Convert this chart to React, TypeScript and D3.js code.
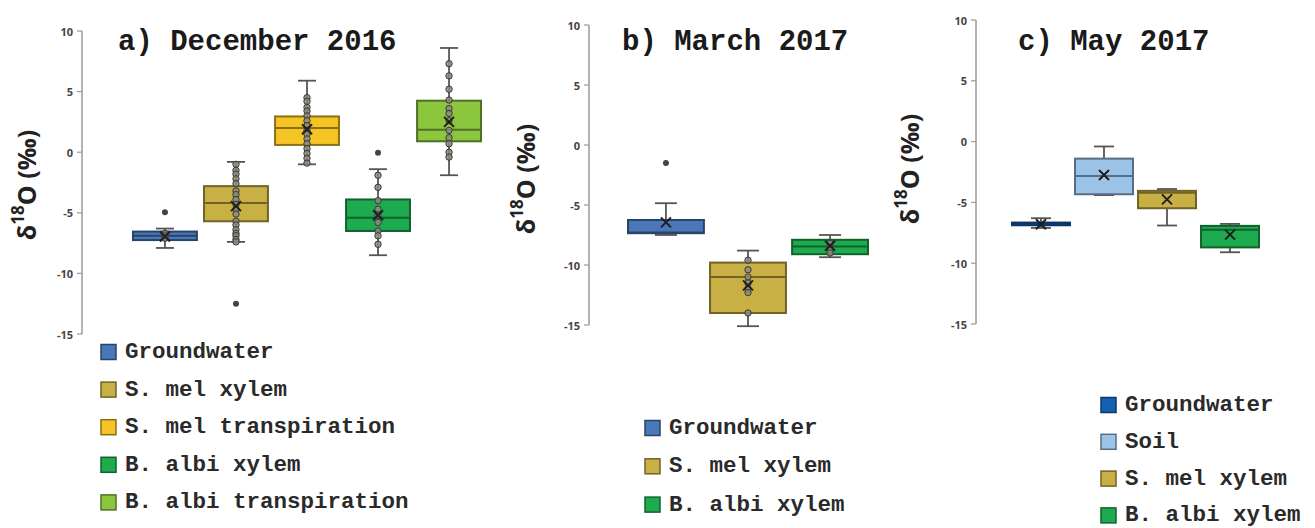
import React from "react";
import * as d3 from "d3";

// ---------- DATA ----------
// a) December 2016
const decCategories = ["Groundwater", "S. mel xylem", "S. mel transpiration", "B. albi xylem", "B. albi transpiration"];
const decColors = ["#4a78b8", "#c8b045", "#f5c425", "#1eab50", "#8cc63f"];
const decLow = [-7.9, -7.4, -1.0, -8.5, -1.9];
const decQ1 = [-7.25, -5.7, 0.6, -6.5, 0.9];
const decMedian = [-6.9, -4.2, 2.0, -5.4, 1.85];
const decQ3 = [-6.55, -2.8, 2.95, -3.9, 4.25];
const decHigh = [-6.3, -0.8, 5.9, -1.4, 8.6];
const decMean = [-6.95, -4.45, 1.9, -5.2, 2.5];
const decOutliers = [[-4.95], [-12.5], [], [-0.05], []];
const decPoints = [
  [-6.7, -6.9, -7.1],
  [-1.0, -1.5, -1.8, -2.2, -2.6, -3.2, -3.5, -3.9, -4.3, -4.7, -5.1, -5.7, -6.0, -6.4, -6.7, -6.9, -7.2, -7.4],
  [4.5, 4.2, 3.7, 3.4, 3.0, 2.6, 2.2, 1.8, 1.5, 1.1, 0.7, 0.3, -0.1, -0.5, -0.9],
  [-1.9, -2.9, -4.0, -4.7, -5.2, -5.8, -6.5, -6.9, -7.6],
  [7.3, 6.3, 5.2, 4.3, 3.6, 3.2, 2.6, 1.8, 1.2, 0.7, 0.0, -0.4],
];

// b) March 2017
const marCategories = ["Groundwater", "S. mel xylem", "B. albi xylem"];
const marColors = ["#4a78b8", "#c8b045", "#1eab50"];
const marLow = [-7.5, -15.1, -9.35];
const marQ1 = [-7.35, -14.0, -9.1];
const marMedian = [-7.3, -11.0, -8.45];
const marQ3 = [-6.25, -9.8, -7.9];
const marHigh = [-4.85, -8.8, -7.5];
const marMean = [-6.45, -11.7, -8.4];
const marOutliers = [[-1.5], [], []];
const marPoints = [[], [-9.6, -10.4, -11.0, -11.5, -12.0, -12.3, -14.0], [-8.2, -8.7, -9.0]];

// c) May 2017
const mayCategories = ["Groundwater", "Soil", "S. mel xylem", "B. albi xylem"];
const mayColors = ["#1560b4", "#9cc3e8", "#c8b045", "#1eab50"];
const mayLow = [-7.1, -4.4, -6.9, -9.1];
const mayQ1 = [-6.88, -4.33, -5.48, -8.7];
const mayMedian = [-6.75, -2.82, -4.2, -7.25];
const mayQ3 = [-6.66, -1.4, -4.05, -6.93];
const mayHigh = [-6.3, -0.4, -3.9, -6.77];
const mayMean = [-6.8, -2.75, -4.75, -7.65];
const mayOutliers = [[], [], [], []];
const mayPoints = [[], [], [], []];

const yTicks = [10, 5, 0, -5, -10, -15];
const yDomain = [-15, 10];

const titles = ["a) December 2016", "b) March 2017", "c) May 2017"];

// ---------- LAYOUT ----------
type PanelData = {
  title: string;
  categories: string[];
  colors: string[];
  low: number[];
  q1: number[];
  median: number[];
  q3: number[];
  high: number[];
  mean: number[];
  outliers: number[][];
  points: number[][];
};

type PanelLayout = {
  axisX: number;
  yTop: number;
  yBottom: number;
  bandStart: number;
  bandEnd: number;
  padInner: number;
  capHalf: number;
  titleX: number;
  titleY: number;
  labelX: number;
  labelY: number;
  legendX: number;
  legendY: number;
  legendStep: number;
};

const panels: PanelData[] = [
  { title: titles[0], categories: decCategories, colors: decColors, low: decLow, q1: decQ1, median: decMedian, q3: decQ3, high: decHigh, mean: decMean, outliers: decOutliers, points: decPoints },
  { title: titles[1], categories: marCategories, colors: marColors, low: marLow, q1: marQ1, median: marMedian, q3: marQ3, high: marHigh, mean: marMean, outliers: marOutliers, points: marPoints },
  { title: titles[2], categories: mayCategories, colors: mayColors, low: mayLow, q1: mayQ1, median: mayMedian, q3: mayQ3, high: mayHigh, mean: mayMean, outliers: mayOutliers, points: mayPoints },
];

const layouts: PanelLayout[] = [
  { axisX: 82, yTop: 31, yBottom: 334, bandStart: 133, bandEnd: 481, padInner: 0.1, capHalf: 9, titleX: 118, titleY: 50, labelX: 26, labelY: 185, legendX: 101, legendY: 352, legendStep: 37.6 },
  { axisX: 589, yTop: 25, yBottom: 325, bandStart: 628, bandEnd: 868, padInner: 0.075, capHalf: 11, titleX: 622, titleY: 50, labelX: 525, labelY: 179, legendX: 645, legendY: 428, legendStep: 38.3 },
  { axisX: 976, yTop: 20, yBottom: 324, bandStart: 1012, bandEnd: 1259, padInner: 0.08, capHalf: 10, titleX: 1018, titleY: 50, labelX: 909, labelY: 169, legendX: 1101, legendY: 405, legendStep: 36.8 },
];

const MONO = "'Liberation Mono', 'Courier New', monospace";
const SANS = "'Open Sans', 'DejaVu Sans', Arial, sans-serif";

function Panel({ d, l }: { d: PanelData; l: PanelLayout }) {
  const y = d3.scaleLinear().domain(yDomain).range([l.yBottom, l.yTop]);
  const x = d3
    .scaleBand<string>()
    .domain(d.categories)
    .range([l.bandStart, l.bandEnd])
    .paddingInner(l.padInner)
    .paddingOuter(0);
  const bw = x.bandwidth();

  return (
    <g>
      {/* axis */}
      <line x1={l.axisX} x2={l.axisX} y1={y(10)} y2={y(-15)} stroke="#9a9a9a" strokeWidth={1.5} />
      {yTicks.map((t) => (
        <g key={t}>
          <line x1={l.axisX - 5} x2={l.axisX} y1={y(t)} y2={y(t)} stroke="#9a9a9a" strokeWidth={1.2} />
          <text
            x={l.axisX - 9}
            y={y(t)}
            textAnchor="end"
            dominantBaseline="central"
            fontFamily={SANS}
            fontWeight={700}
            fontSize={11}
            fill="#444"
          >
            {t}
          </text>
        </g>
      ))}
      {/* y label */}
      <text
        transform={`translate(${l.labelX},${l.labelY}) rotate(-90)`}
        textAnchor="middle"
        dominantBaseline="central"
        fontFamily={SANS}
        fontWeight={700}
        fontSize={25}
        fill="#222"
      >
        δ<tspan fontSize={17} dy={-9}>18</tspan>
        <tspan dy={9}>O (‰)</tspan>
      </text>
      {/* title */}
      <text x={l.titleX} y={l.titleY} fontFamily={MONO} fontWeight={700} fontSize={29} fill="#1a1a1a">
        {d.title}
      </text>
      {/* boxes */}
      {d.categories.map((c, i) => {
        const x0 = x(c) as number;
        const cx = x0 + bw / 2;
        const fill = d.colors[i];
        const dark = d3.color(fill)!.darker(1.6).formatHex();
        return (
          <g key={c}>
            {/* whiskers */}
            <line x1={cx} x2={cx} y1={y(d.high[i])} y2={y(d.q3[i])} stroke="#555" strokeWidth={1.8} />
            <line x1={cx} x2={cx} y1={y(d.q1[i])} y2={y(d.low[i])} stroke="#555" strokeWidth={1.8} />
            <line x1={cx - l.capHalf} x2={cx + l.capHalf} y1={y(d.high[i])} y2={y(d.high[i])} stroke="#555" strokeWidth={1.8} />
            <line x1={cx - l.capHalf} x2={cx + l.capHalf} y1={y(d.low[i])} y2={y(d.low[i])} stroke="#555" strokeWidth={1.8} />
            {/* box */}
            <rect
              x={x0}
              y={y(d.q3[i])}
              width={bw}
              height={Math.max(1, y(d.q1[i]) - y(d.q3[i]))}
              fill={fill}
              stroke={dark}
              strokeWidth={2}
            />
            <line x1={x0} x2={x0 + bw} y1={y(d.median[i])} y2={y(d.median[i])} stroke={dark} strokeWidth={2} />
            {/* points */}
            {d.points[i].map((p, j) => (
              <circle key={j} cx={cx} cy={y(p)} r={3.2} fill="#8a8a7a" fillOpacity={0.85} stroke="#3a3a3a" strokeWidth={1} />
            ))}
            {/* outliers */}
            {d.outliers[i].map((p, j) => (
              <circle key={"o" + j} cx={cx} cy={y(p)} r={3} fill="#444" />
            ))}
            {/* mean marker */}
            <g stroke="#1e1e1e" strokeWidth={2}>
              <line x1={cx - 5} x2={cx + 5} y1={y(d.mean[i]) - 5} y2={y(d.mean[i]) + 5} />
              <line x1={cx - 5} x2={cx + 5} y1={y(d.mean[i]) + 5} y2={y(d.mean[i]) - 5} />
            </g>
          </g>
        );
      })}
      {/* legend */}
      {d.categories.map((c, i) => {
        const ly = l.legendY + i * l.legendStep;
        const fill = d.colors[i];
        return (
          <g key={"lg" + c}>
            <rect
              x={l.legendX}
              y={ly - 7.5}
              width={15}
              height={15}
              fill={fill}
              stroke={d3.color(fill)!.darker(1.6).formatHex()}
              strokeWidth={1.5}
            />
            <text
              x={l.legendX + 24}
              y={ly}
              dominantBaseline="central"
              fontFamily={MONO}
              fontWeight={700}
              fontSize={22.5}
              fill="#2a2a2a"
            >
              {c}
            </text>
          </g>
        );
      })}
    </g>
  );
}

export default function App() {
  return (
    <div style={{ position: "absolute", left: 0, top: 0 }}>
      <svg width={1315} height={528} viewBox="0 0 1315 528" style={{ display: "block", background: "#fff" }}>
        {panels.map((p, i) => (
          <Panel key={p.title} d={p} l={layouts[i]} />
        ))}
      </svg>
    </div>
  );
}
